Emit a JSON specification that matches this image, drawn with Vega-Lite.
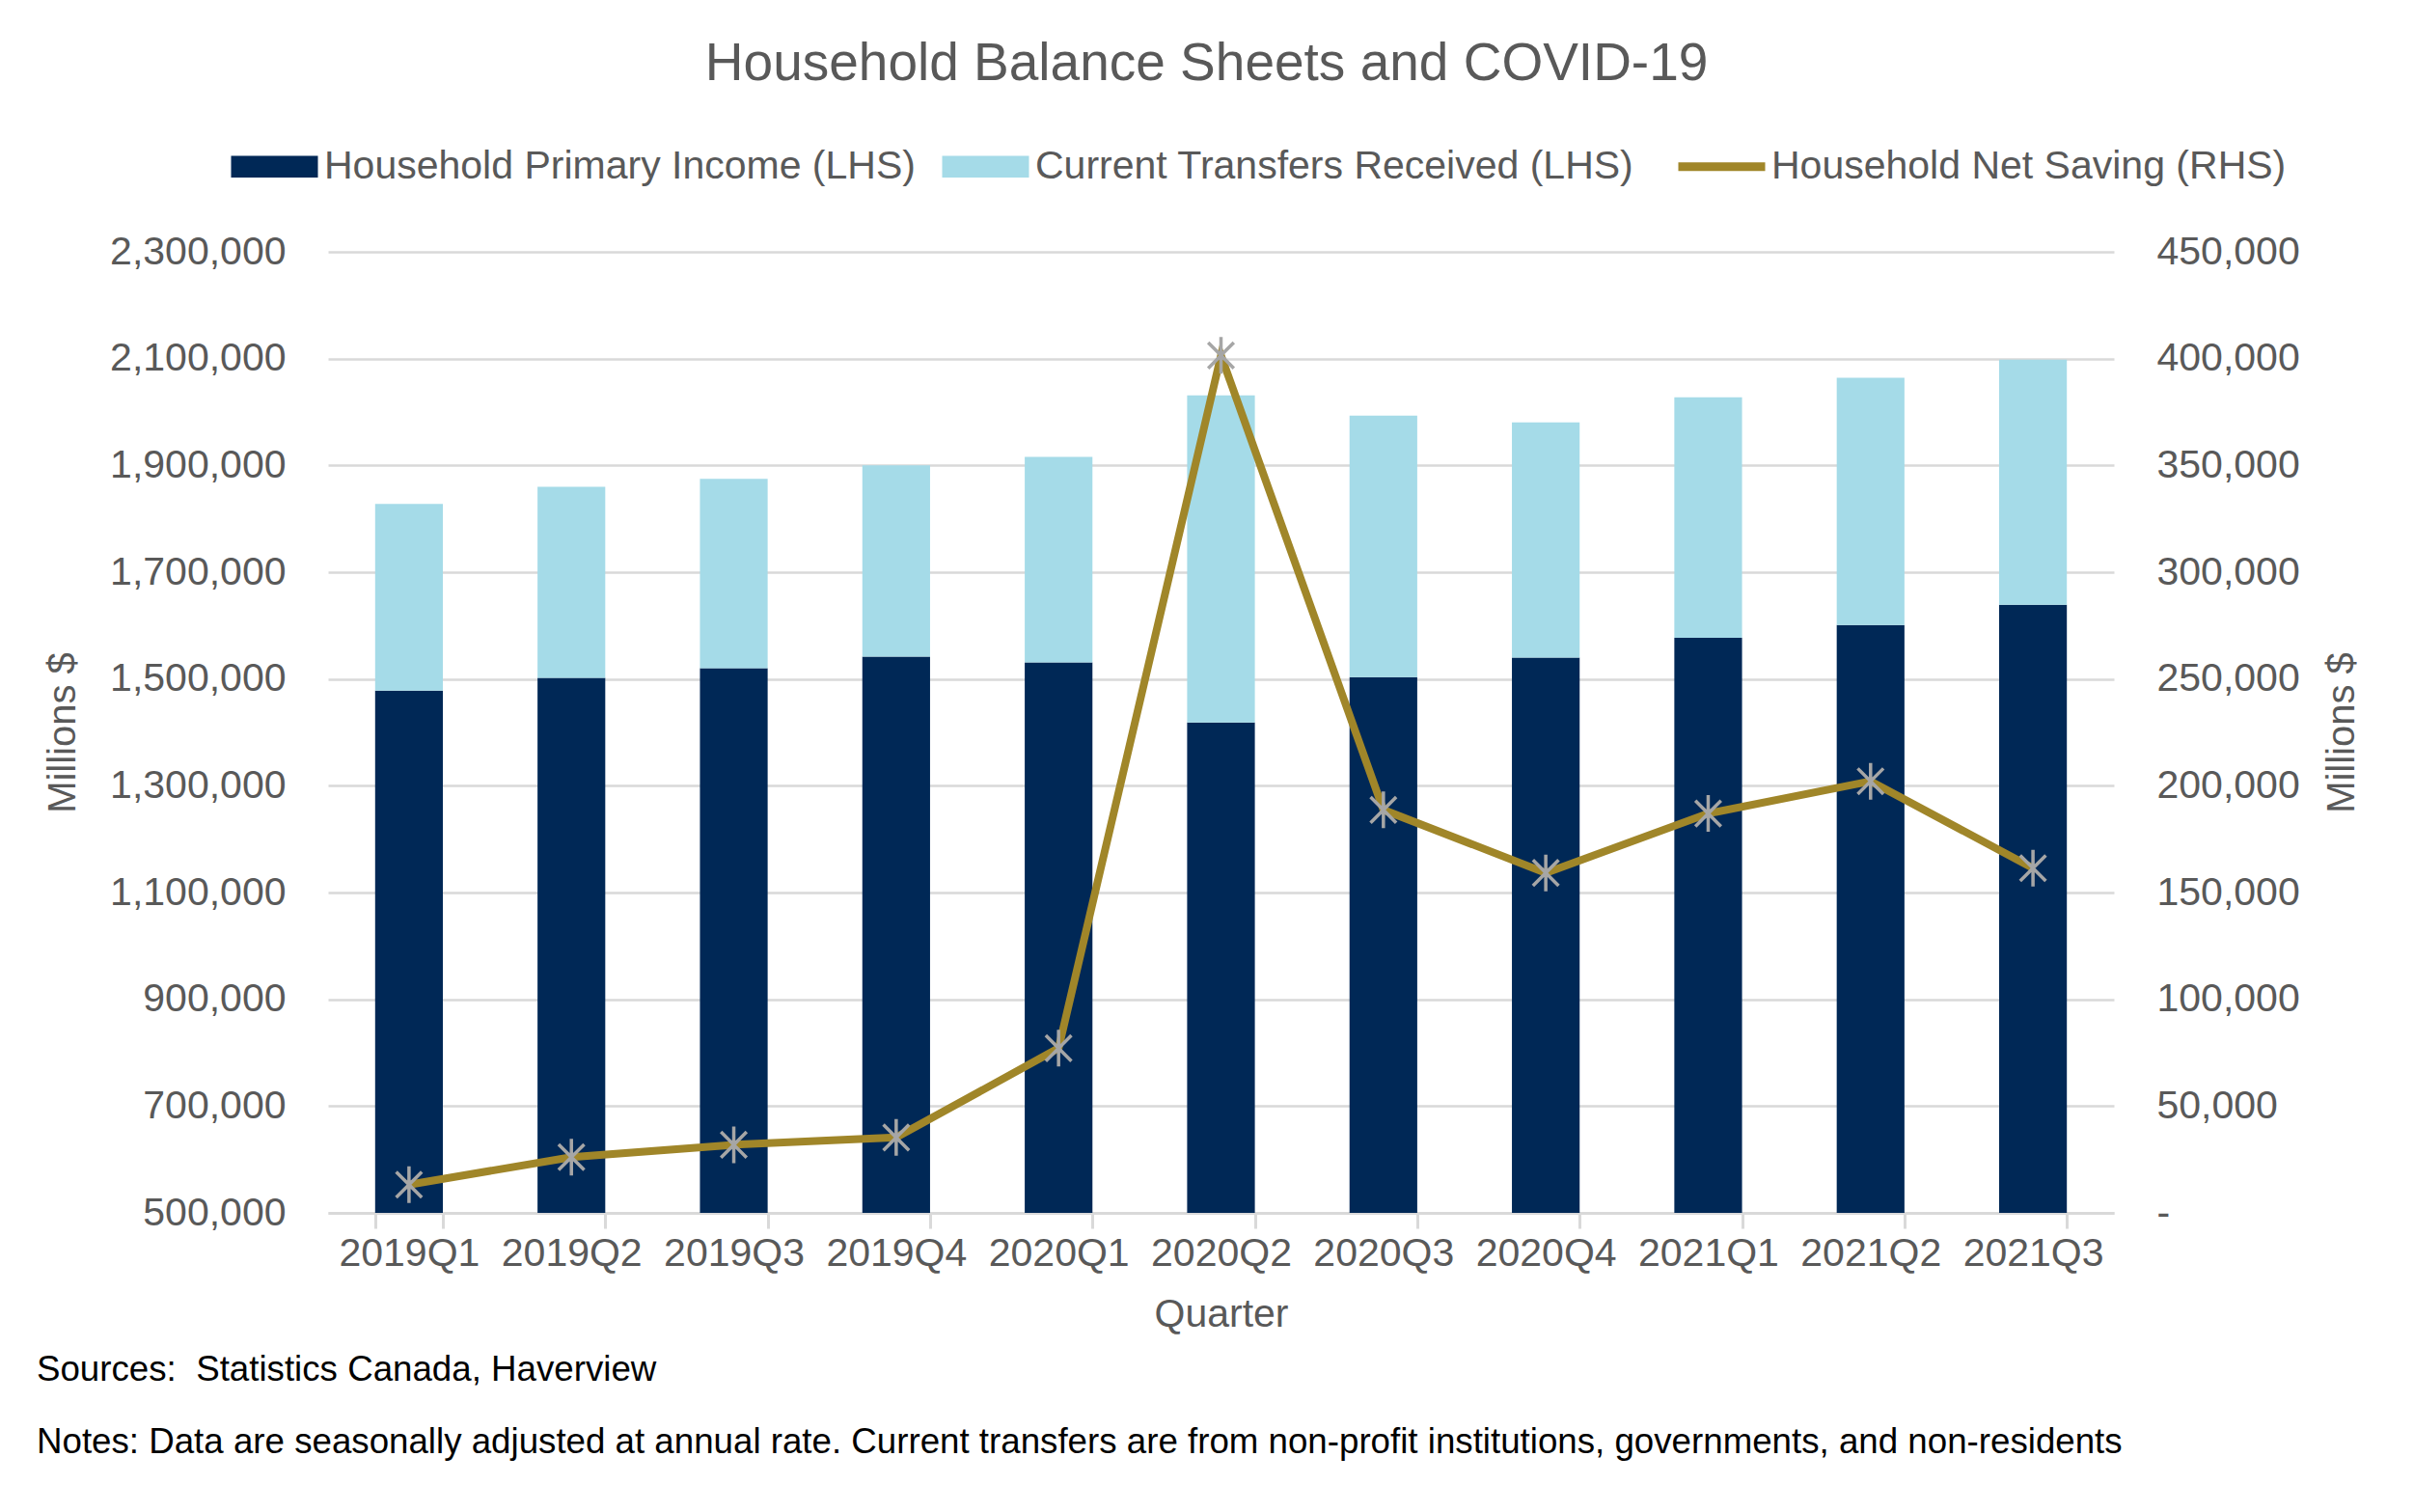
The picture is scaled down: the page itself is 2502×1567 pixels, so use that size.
{
  "$schema": "https://vega.github.io/schema/vega-lite/v6.json",
  "background": "white",
  "padding": {"left": 38, "top": 39, "right": 5, "bottom": 5},
  "title": {
    "text": "Household Balance Sheets and COVID-19",
    "anchor": "middle",
    "fontSize": 55,
    "fontWeight": "normal",
    "color": "#595959",
    "font": "Liberation Sans",
    "offset": 57,
    "dx": 8
  },
  "datasets": {
    "bars": [
      {"quarter": "2019Q1", "series": "Household Primary Income (LHS)", "ord": 1, "value": 1478000},
      {"quarter": "2019Q1", "series": "Current Transfers Received (LHS)", "ord": 2, "value": 350000},
      {"quarter": "2019Q2", "series": "Household Primary Income (LHS)", "ord": 1, "value": 1502000},
      {"quarter": "2019Q2", "series": "Current Transfers Received (LHS)", "ord": 2, "value": 358000},
      {"quarter": "2019Q3", "series": "Household Primary Income (LHS)", "ord": 1, "value": 1520000},
      {"quarter": "2019Q3", "series": "Current Transfers Received (LHS)", "ord": 2, "value": 355000},
      {"quarter": "2019Q4", "series": "Household Primary Income (LHS)", "ord": 1, "value": 1542000},
      {"quarter": "2019Q4", "series": "Current Transfers Received (LHS)", "ord": 2, "value": 358000},
      {"quarter": "2020Q1", "series": "Household Primary Income (LHS)", "ord": 1, "value": 1531000},
      {"quarter": "2020Q1", "series": "Current Transfers Received (LHS)", "ord": 2, "value": 385000},
      {"quarter": "2020Q2", "series": "Household Primary Income (LHS)", "ord": 1, "value": 1418500},
      {"quarter": "2020Q2", "series": "Current Transfers Received (LHS)", "ord": 2, "value": 612500},
      {"quarter": "2020Q3", "series": "Household Primary Income (LHS)", "ord": 1, "value": 1503600},
      {"quarter": "2020Q3", "series": "Current Transfers Received (LHS)", "ord": 2, "value": 489400},
      {"quarter": "2020Q4", "series": "Household Primary Income (LHS)", "ord": 1, "value": 1540000},
      {"quarter": "2020Q4", "series": "Current Transfers Received (LHS)", "ord": 2, "value": 440500},
      {"quarter": "2021Q1", "series": "Household Primary Income (LHS)", "ord": 1, "value": 1577000},
      {"quarter": "2021Q1", "series": "Current Transfers Received (LHS)", "ord": 2, "value": 450600},
      {"quarter": "2021Q2", "series": "Household Primary Income (LHS)", "ord": 1, "value": 1601000},
      {"quarter": "2021Q2", "series": "Current Transfers Received (LHS)", "ord": 2, "value": 463000},
      {"quarter": "2021Q3", "series": "Household Primary Income (LHS)", "ord": 1, "value": 1639000},
      {"quarter": "2021Q3", "series": "Current Transfers Received (LHS)", "ord": 2, "value": 459000}
    ],
    "saving": [
      {"quarter": "2019Q1", "saving": 13200},
      {"quarter": "2019Q2", "saving": 26100},
      {"quarter": "2019Q3", "saving": 31900},
      {"quarter": "2019Q4", "saving": 35300},
      {"quarter": "2020Q1", "saving": 77100},
      {"quarter": "2020Q2", "saving": 401500},
      {"quarter": "2020Q3", "saving": 188700},
      {"quarter": "2020Q4", "saving": 159200},
      {"quarter": "2021Q1", "saving": 187000},
      {"quarter": "2021Q2", "saving": 202100},
      {"quarter": "2021Q3", "saving": 161400}
    ],
    "notes": [
      {"row": 1, "line": "Sources: \u00a0Statistics Canada, Haverview"},
      {"row": 2, "line": "Notes: Data are seasonally adjusted at annual rate. Current transfers are from non-profit institutions, governments, and non-residents"}
    ]
  },
  "spacing": 0,
  "vconcat": [
    {
      "width": 1851,
      "height": 996,
      "layer": [
        {
          "data": {"name": "bars"},
          "mark": {"type": "bar", "clip": true},
          "encoding": {
            "x": {
              "field": "quarter",
              "type": "ordinal",
              "title": "Quarter",
              "scale": {"paddingInner": 0.583, "paddingOuter": 0.29}
            },
            "y": {
              "field": "value",
              "type": "quantitative",
              "stack": "zero",
              "title": "Millions $",
              "scale": {"domain": [500000, 2300000], "nice": false, "zero": false},
              "axis": {
                "title": "Millions $",
                "values": [500000, 700000, 900000, 1100000, 1300000, 1500000, 1700000, 1900000, 2100000, 2300000],
                "labelExpr": "format(datum.value, ',')",
                "labelLimit": 500,
                "grid": true,
                "gridColor": "#D9D9D9",
                "gridWidth": 2.5,
                "domain": false,
                "ticks": false,
                "labelPadding": 44,
                "labelFontSize": 41,
                "labelColor": "#595959",
                "titleFontSize": 40,
                "titleColor": "#595959",
                "titleFontWeight": "normal",
                "titlePadding": 55
              }
            },
            "color": {
              "field": "series",
              "type": "nominal",
              "scale": {
                "domain": ["Household Primary Income (LHS)", "Current Transfers Received (LHS)", "Household Net Saving (RHS)"],
                "range": ["#002856", "#A5DBE8", "#A08629"]
              },
              "legend": {
                "orient": "none",
                "legendX": -76,
                "legendY": -109,
                "direction": "horizontal",
                "title": null,
                "labelFontSize": 41,
                "labelColor": "#595959",
                "labelFont": "Liberation Sans",
                "labelLimit": 2000,
                "symbolType": "M-1,-0.25H1V0.25H-1Z",
                "symbolSize": 8100,
                "labelOffset": 31,
                "columnPadding": 27,
                "padding": 0,
                "offset": 0,
                "symbolStrokeWidth": 0,
                "symbolOpacity": 1,
                "encode": {
                  "symbols": {
                    "update": {
                      "shape": {"signal": "datum.value === 'Household Net Saving (RHS)' ? 'M-1,0H1' : 'M-1,-0.25H1V0.25H-1Z'"},
                      "fill": {"signal": "datum.value === 'Household Net Saving (RHS)' ? 'transparent' : scale('color', datum.value)"},
                      "stroke": {"signal": "datum.value === 'Household Net Saving (RHS)' ? '#A08629' : 'transparent'"},
                      "strokeWidth": {"signal": "datum.value === 'Household Net Saving (RHS)' ? 9 : 0"},
                      "opacity": {"value": 1}
                    }
                  }
                }
              }
            },
            "order": {"field": "ord", "type": "quantitative"}
          }
        },
        {
          "data": {"name": "saving"},
          "layer": [
            {
              "mark": {"type": "line", "strokeWidth": 8},
              "encoding": {
                "x": {"field": "quarter", "type": "ordinal", "title": "Quarter"},
                "y": {
                  "field": "saving",
                  "type": "quantitative",
                  "title": "Millions $",
                  "scale": {"domain": [0, 450000], "nice": false},
                  "axis": {
                    "orient": "right",
                    "title": "Millions $",
                    "values": [0, 50000, 100000, 150000, 200000, 250000, 300000, 350000, 400000, 450000],
                    "labelExpr": "datum.value === 0 ? '-' : format(datum.value, ',')",
                    "labelLimit": 500,
                    "grid": false,
                    "domain": false,
                    "ticks": false,
                    "labelPadding": 44,
                    "labelFontSize": 41,
                    "labelColor": "#595959",
                    "titleFontSize": 40,
                    "titleColor": "#595959",
                    "titleFontWeight": "normal",
                    "titleAngle": 270,
                    "titleBaseline": "top",
                    "titlePadding": 24
                  }
                },
                "color": {"datum": "Household Net Saving (RHS)"}
              }
            },
            {
              "mark": {
                "type": "point",
                "shape": "M0,-1V1M-0.7,-0.7L0.7,0.7M-0.7,0.7L0.7,-0.7",
                "filled": false,
                "stroke": "#A6A6A6",
                "strokeWidth": 3.5,
                "size": 1444,
                "opacity": 1
              },
              "encoding": {
                "x": {"field": "quarter", "type": "ordinal", "title": "Quarter"},
                "y": {
                  "field": "saving",
                  "type": "quantitative",
                  "title": "Millions $",
                  "axis": {
                    "orient": "right",
                    "title": "Millions $",
                    "values": [0, 50000, 100000, 150000, 200000, 250000, 300000, 350000, 400000, 450000],
                    "labelExpr": "datum.value === 0 ? '-' : format(datum.value, ',')",
                    "labelLimit": 500,
                    "grid": false,
                    "domain": false,
                    "ticks": false,
                    "labelPadding": 44,
                    "labelFontSize": 41,
                    "labelColor": "#595959",
                    "titleFontSize": 40,
                    "titleColor": "#595959",
                    "titleFontWeight": "normal",
                    "titleAngle": 270,
                    "titleBaseline": "top",
                    "titlePadding": 24
                  }
                }
              }
            }
          ]
        }
      ],
      "resolve": {"scale": {"y": "independent"}}
    },
    {
      "width": 1851,
      "height": 150,
      "data": {"name": "notes"},
      "mark": {"type": "text", "align": "left", "baseline": "middle", "fontSize": 36.7, "color": "#000000", "font": "Liberation Sans", "dx": -302},
      "encoding": {
        "y": {"field": "row", "type": "ordinal", "axis": null},
        "x": {"value": 0},
        "text": {"field": "line"}
      }
    }
  ],
  "config": {
    "font": "Liberation Sans",
    "view": {"stroke": null},
    "axisX": {
      "domainColor": "#D9D9D9",
      "domainWidth": 3,
      "tickBand": "extent",
      "tickColor": "#D9D9D9",
      "tickWidth": 3,
      "tickSize": 16,
      "labelAngle": 0,
      "labelFontSize": 41,
      "labelColor": "#595959",
      "labelPadding": 6,
      "titleFontSize": 41,
      "titleColor": "#595959",
      "titleFontWeight": "normal",
      "titlePadding": 23,
      "grid": false
    }
  }
}
